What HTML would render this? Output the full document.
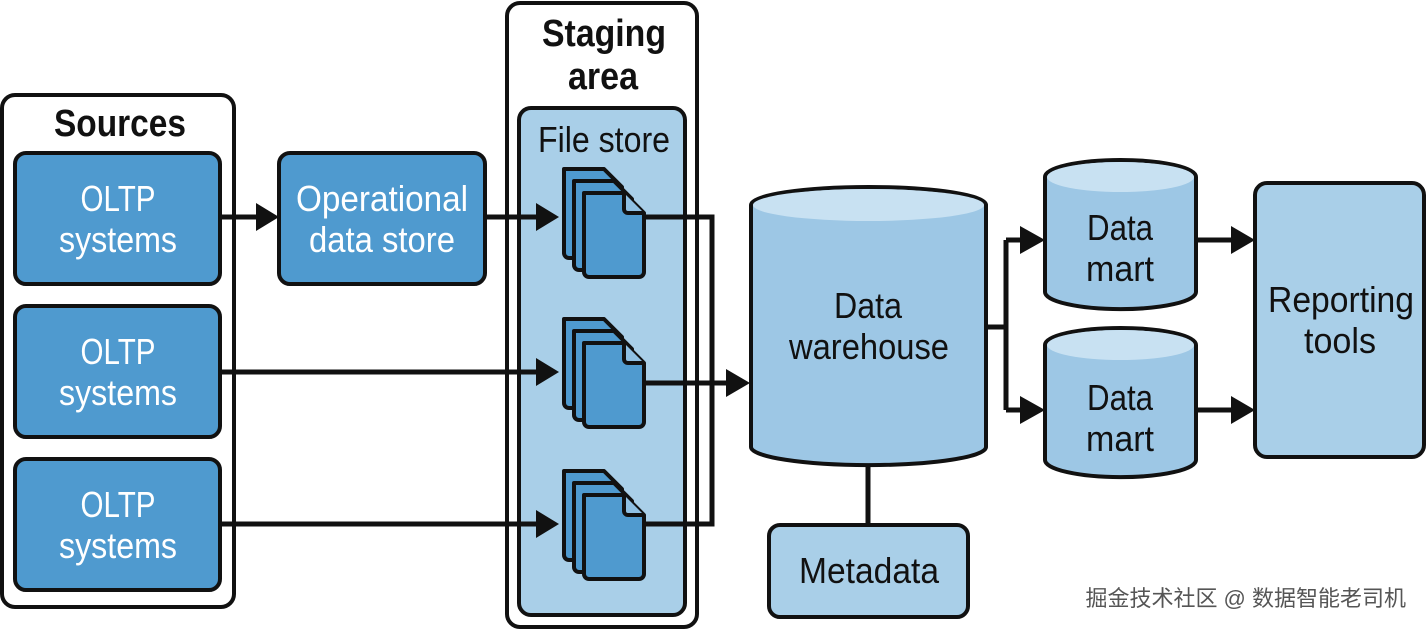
<!DOCTYPE html>
<html><head><meta charset="utf-8"><style>
html,body{margin:0;padding:0;background:#fff;}
text{font-family:"Liberation Sans",sans-serif;}
</style></head><body>
<svg width="1427" height="631" viewBox="0 0 1427 631" xmlns="http://www.w3.org/2000/svg">
<defs>
<g id="files">
<path d="M4 2 H44 L62 20 V86 a5 5 0 0 1 -5 5 H9 a5 5 0 0 1 -5 -5 Z" fill="#4f9acf" stroke="#111" stroke-width="4" stroke-linejoin="round"/>
<path d="M14 14 H54 L72 32 V98 a5 5 0 0 1 -5 5 H19 a5 5 0 0 1 -5 -5 Z" fill="#4f9acf" stroke="#111" stroke-width="4" stroke-linejoin="round"/>
<path d="M24 26 H64 L84 46 V105 a5 5 0 0 1 -5 5 H29 a5 5 0 0 1 -5 -5 Z" fill="#4f9acf" stroke="#111" stroke-width="4" stroke-linejoin="round"/>
<path d="M64 26 V42 a4 4 0 0 0 4 4 H84" fill="#8fc0e3" stroke="#111" stroke-width="4" stroke-linejoin="round"/>
</g>
</defs>
<g fill="none" stroke="#111" stroke-width="4">
<rect x="2" y="95" width="232" height="512" rx="13" fill="#fff"/>
<rect x="507" y="3" width="190" height="624" rx="13" fill="#fff"/>
<rect x="519" y="108" width="166" height="507" rx="12" fill="#a9cfe8"/>
</g>
<g font-size="38" font-weight="bold" fill="#111" text-anchor="middle">
<text x="120" y="136" textLength="132" lengthAdjust="spacingAndGlyphs">Sources</text>
<text x="604" y="46" textLength="124" lengthAdjust="spacingAndGlyphs">Staging</text>
<text x="603" y="89" textLength="70" lengthAdjust="spacingAndGlyphs">area</text>
</g>
<text x="604" y="152" font-size="36" text-anchor="middle" fill="#111" textLength="132" lengthAdjust="spacingAndGlyphs">File store</text>
<g stroke="#111" stroke-width="4" fill="#4f9acf">
<rect x="15" y="153" width="205" height="131" rx="11"/>
<rect x="15" y="306" width="205" height="131" rx="11"/>
<rect x="15" y="459" width="205" height="131" rx="11"/>
<rect x="279" y="153" width="206" height="131" rx="11"/>
</g>
<g font-size="36" fill="#fff" text-anchor="middle">
<text x="118" y="211" textLength="75" lengthAdjust="spacingAndGlyphs">OLTP</text><text x="118" y="252" textLength="118" lengthAdjust="spacingAndGlyphs">systems</text>
<text x="118" y="364" textLength="75" lengthAdjust="spacingAndGlyphs">OLTP</text><text x="118" y="405" textLength="118" lengthAdjust="spacingAndGlyphs">systems</text>
<text x="118" y="517" textLength="75" lengthAdjust="spacingAndGlyphs">OLTP</text><text x="118" y="558" textLength="118" lengthAdjust="spacingAndGlyphs">systems</text>
<text x="382" y="211" textLength="172" lengthAdjust="spacingAndGlyphs">Operational</text><text x="382" y="252" textLength="146" lengthAdjust="spacingAndGlyphs">data store</text>
</g>
<use href="#files" x="560" y="167"/>
<use href="#files" x="560" y="317"/>
<use href="#files" x="560" y="469"/>
<g stroke="#111" stroke-width="5" fill="none">
<path d="M220 217 H258"/>
<path d="M485 217 H538"/>
<path d="M220 372 H538"/>
<path d="M220 524 H538"/>
<path d="M644 217 H712 V524 H644"/>
<path d="M646 383 H730"/>
<path d="M868 465 V525"/>
<path d="M986 327 H1006 M1006 240 V410 M1006 240 H1025 M1006 410 H1025"/>
<path d="M1196 240 H1235 M1196 410 H1235"/>
</g>
<g fill="#111">
<path d="M256 203 L279 217 L256 231 Z"/>
<path d="M536 203 L559 217 L536 231 Z"/>
<path d="M536 358 L559 372 L536 386 Z"/>
<path d="M536 510 L559 524 L536 538 Z"/>
<path d="M726 369 L750 383 L726 397 Z"/>
<path d="M1020 226 L1045 240 L1020 254 Z"/>
<path d="M1020 396 L1045 410 L1020 424 Z"/>
<path d="M1231 226 L1255 240 L1231 254 Z"/>
<path d="M1231 396 L1255 410 L1231 424 Z"/>
</g>
<g stroke="#111" stroke-width="4">
<path d="M751 205 V447 A117 18 0 0 0 986 447 V205 A117.5 18 0 0 0 751 205 Z" fill="#9dc7e5"/>
<ellipse cx="868.5" cy="205" rx="115.5" ry="16" fill="#c8e1f2" stroke="none"/>
<path d="M1045 177 V292 A75 17 0 0 0 1196 292 V177 A75.5 17 0 0 0 1045 177 Z" fill="#9dc7e5"/>
<ellipse cx="1120.5" cy="177" rx="73.5" ry="15" fill="#c8e1f2" stroke="none"/>
<path d="M1045 345 V460 A75 17 0 0 0 1196 460 V345 A75.5 17 0 0 0 1045 345 Z" fill="#9dc7e5"/>
<ellipse cx="1120.5" cy="345" rx="73.5" ry="15" fill="#c8e1f2" stroke="none"/>
<rect x="769" y="525" width="199" height="92" rx="11" fill="#a9cfe8"/>
<rect x="1255" y="183" width="169" height="274" rx="12" fill="#a9cfe8"/>
</g>
<g font-size="36" fill="#111" text-anchor="middle">
<text x="868" y="318" textLength="68" lengthAdjust="spacingAndGlyphs">Data</text><text x="869" y="359" textLength="160" lengthAdjust="spacingAndGlyphs">warehouse</text>
<text x="1120" y="240" textLength="66" lengthAdjust="spacingAndGlyphs">Data</text><text x="1120" y="281" textLength="68" lengthAdjust="spacingAndGlyphs">mart</text>
<text x="1120" y="410" textLength="66" lengthAdjust="spacingAndGlyphs">Data</text><text x="1120" y="451" textLength="68" lengthAdjust="spacingAndGlyphs">mart</text>
<text x="869" y="583" textLength="140" lengthAdjust="spacingAndGlyphs">Metadata</text>
<text x="1341" y="312" textLength="146" lengthAdjust="spacingAndGlyphs">Reporting</text><text x="1340" y="353" textLength="72" lengthAdjust="spacingAndGlyphs">tools</text>
</g>
<text x="1406" y="606" font-size="22" fill="#555" text-anchor="end" style='font-family:"Liberation Sans","Noto Sans CJK SC",sans-serif'>掘金技术社区 @ 数据智能老司机</text>
</svg>
</body></html>
